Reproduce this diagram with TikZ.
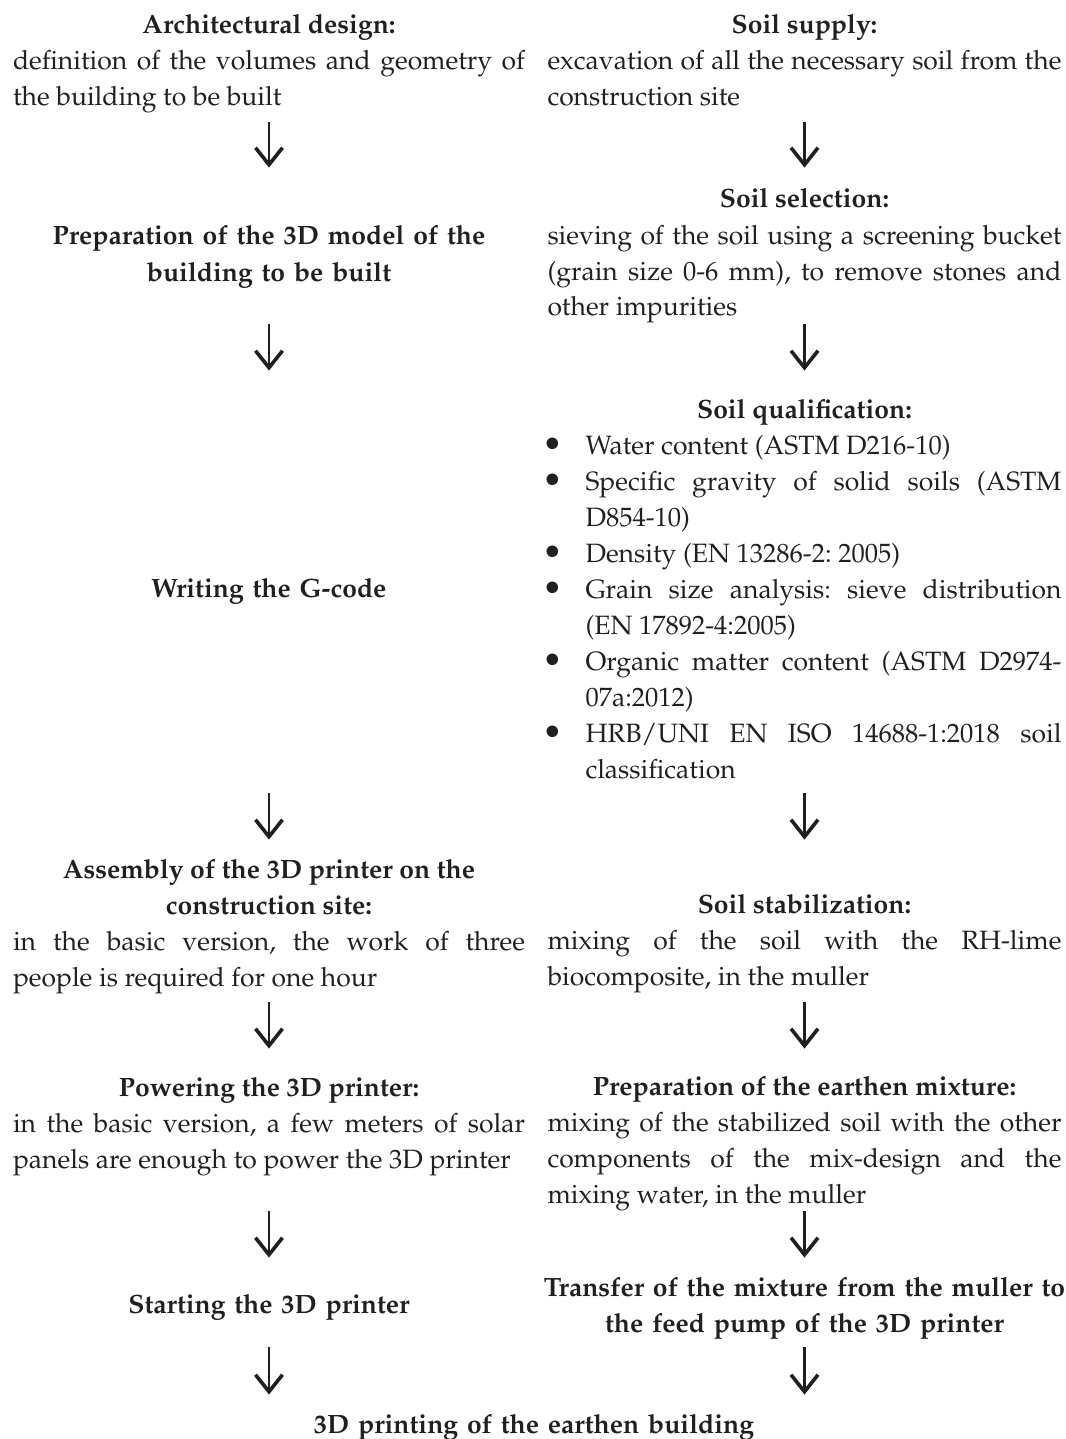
\documentclass[tikz,border=0pt]{standalone}
\usepackage[T1]{fontenc}
\usepackage{mathpazo}
\usepackage{xcolor}
\usepackage{tikz}
\usetikzlibrary{arrows.meta,positioning}

\definecolor{inkcol}{RGB}{35,31,32}
\hyphenpenalty=10000
\frenchspacing
\newcommand{\soilitem}[1]{\par\hangindent=19pt\hangafter=1\noindent\hbox to 19pt{\hskip2.5pt\makebox[0pt]{\raisebox{-0.8pt}{\fontsize{17}{18}\selectfont\textbullet}}\hfil}#1}

\begin{document}
\begin{tikzpicture}[x=0.5pt, y=-0.5pt,
	font=\fontsize{13.25}{18}\selectfont, text=inkcol,
	stepbox/.style={inner sep=0, anchor=base, text width=256pt, align=justify, execute at begin node=\strut, execute at end node=\strut},
	headbox/.style={inner sep=0, anchor=base, text width=257pt, align=center, font=\fontsize{13.25}{18}\selectfont\bfseries, execute at begin node=\strut, execute at end node=\strut},
	flow/.style={draw=inkcol, line width=1.2pt, -{Straight Barb[length=8.5pt,width=13.5pt,line width=1.8pt]}}]
	\useasboundingbox (0,0) rectangle (1065,1439);

	\node[stepbox] (arch) at (269,34) {{\centering\bfseries Architectural design:\par}definition of the volumes and geometry of\linebreak the building to be built};
	\node[headbox] (prep3d) at (269,245) {Preparation of the 3D model of the\\building to be built};
	\node[headbox] (gcode) at (269,597) {Writing the G-code};
	\node[stepbox] (assembly) at (269,878) {{\centering\bfseries Assembly of the 3D printer on the\\construction site:\par}in the basic version, the work of three\linebreak people is required for one hour};
	\node[stepbox] (powering) at (269,1096) {{\centering\bfseries Powering the 3D printer:\par}in the basic version, a few meters of solar\linebreak panels are enough to power the 3D printer};
	\node[headbox] (starting) at (269,1313) {Starting the 3D printer};

	\node[stepbox, text width=257pt] (supply) at (804.5,34) {{\centering\bfseries Soil supply:\par}excavation of all the necessary soil from the\linebreak construction site};
	\node[stepbox, text width=257pt] (selection) at (804.5,208) {{\centering\bfseries Soil selection:\par}sieving of the soil using a screening bucket\linebreak (grain size 0-6 mm), to remove stones and\linebreak other impurities};
	\node[stepbox, text width=257pt, execute at end node={}] (qualification) at (804.5,418) {{\centering\bfseries Soil qualification:\par}%
		\soilitem{Water content (ASTM D216-10)}%
		\soilitem{Specific gravity of solid soils (ASTM\linebreak D854-10)}%
		\soilitem{Density (EN 13286-2: 2005)}%
		\soilitem{Grain size analysis: sieve distribution\linebreak (EN 17892-4:2005)}%
		\soilitem{Organic matter content (ASTM D2974-\linebreak 07a:2012)}%
		\soilitem{HRB/UNI EN ISO 14688-1:2018 soil\linebreak classification}\strut\par};
	\node[stepbox, text width=257pt] (stabilization) at (804.5,913) {{\centering\bfseries Soil stabilization:\par}mixing of the soil with the RH-lime\linebreak biocomposite, in the muller};
	\node[stepbox, text width=257pt] (earthen) at (804.5,1095) {{\centering\bfseries Preparation of the earthen mixture:\par}mixing of the stabilized soil with the other\linebreak components of the mix-design and the\linebreak mixing water, in the muller};
	\node[headbox, text width=290pt] (transfer) at (804.5,1296) {Transfer of the mixture from the muller to\\the feed pump of the 3D printer};

	\node[headbox, text width=400pt] (final) at (534,1433) {3D printing of the earthen building};

	\draw[flow, shorten <=2.6pt, shorten >=25.9pt] (arch) -- (prep3d);
	\draw[flow, shorten <=16.1pt, shorten >=100.4pt] (prep3d) -- (gcode);
	\draw[flow, shorten <=92.6pt, shorten >=6.4pt] (gcode) -- (assembly);
	\draw[flow, shorten <=2.6pt, shorten >=10.9pt] (assembly) -- (powering);
	\draw[flow, shorten <=16.1pt, shorten >=14.9pt] (powering) -- (starting);
	\draw[flow, shorten <=11.6pt, shorten >=6.4pt] (starting) -- (starting |- final.north);

	\draw[flow, shorten <=2.6pt, shorten >=7.4pt] (supply) -- (selection);
	\draw[flow, shorten <=-1.4pt, shorten >=10.9pt] (selection) -- (qualification);
	\draw[flow, shorten <=-15.9pt, shorten >=23.9pt] (qualification) -- (stabilization);
	\draw[flow, shorten <=3.1pt, shorten >=10.4pt] (stabilization) -- (earthen);
	\draw[flow, shorten <=-1.4pt, shorten >=6.4pt] (earthen) -- (transfer);
	\draw[flow, shorten <=2.1pt, shorten >=6.4pt] (transfer) -- (transfer |- final.north);
\end{tikzpicture}
\end{document}
